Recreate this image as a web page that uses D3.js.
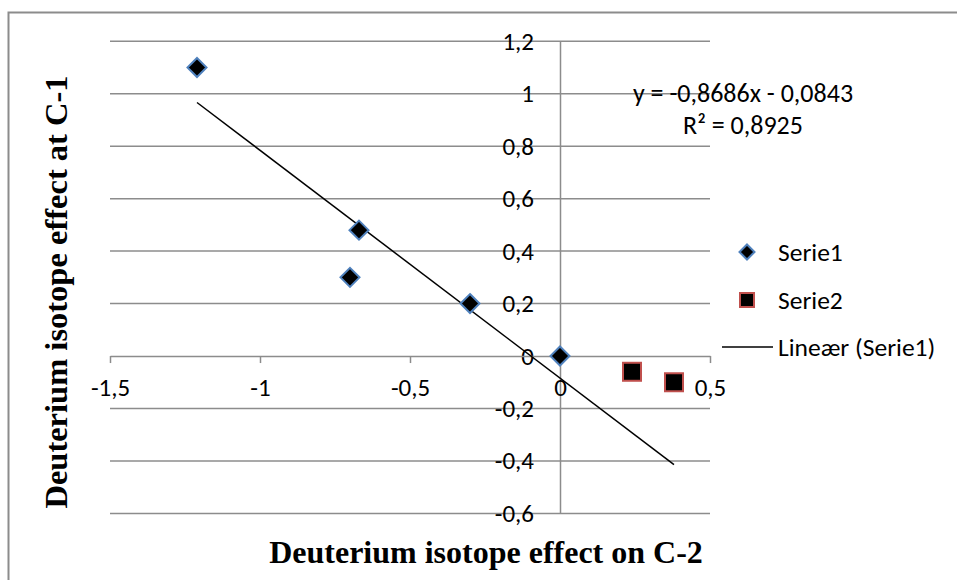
<!DOCTYPE html>
<html><head><meta charset="utf-8">
<script src="https://cdn.jsdelivr.net/npm/d3@7/dist/d3.min.js"></script>
<style>body{margin:0;background:#fff}svg{display:block}</style>
</head><body>
<svg id="c" width="957" height="580"></svg>
<script>
const serie1X = [-1.21, -0.67, -0.70, -0.30, 0.00];
const serie1Y = [1.10, 0.48, 0.30, 0.20, 0.00];
const serie2X = [0.24, 0.38];
const serie2Y = [-0.06, -0.10];
const xTicks = [-1.5, -1, -0.5, 0, 0.5];
const yTicks = [-0.6, -0.4, -0.2, 0, 0.2, 0.4, 0.6, 0.8, 1, 1.2];
const trendSlope = -0.8686, trendIntercept = -0.0843;
const eqText = "y = -0,8686x - 0,0843";
const r2Text = "R² = 0,8925";
const legendLabels = ["Serie1", "Serie2", "Lineær (Serie1)"];
const xTitle = "Deuterium isotope effect on C-2";
const yTitle = "Deuterium isotope effect at C-1";

const svg = d3.select("#c");
const fmt = v => String(v).replace(".", ",");
const x = d3.scaleLinear().domain([-1.5, 0.5]).range([110, 710]);
const y = d3.scaleLinear().domain([-0.6, 1.2]).range([513.4, 41.3]);
const sans = "Carlito, Calibri, Lato, sans-serif";
const serif = "'Liberation Serif', 'Times New Roman', serif";
const grid = "#8c8c8c";

// outer border (only top/left visible)
svg.append("rect").attr("x", 8.5).attr("y", 12.5).attr("width", 1000).attr("height", 1000)
  .attr("fill", "none").attr("stroke", "#8c8c8c").attr("stroke-width", 2);

// gridlines
svg.append("g").selectAll("line").data(yTicks.filter(d => d !== 0)).join("line")
  .attr("x1", x(-1.5)).attr("x2", x(0.5)).attr("y1", d => y(d)).attr("y2", d => y(d))
  .attr("stroke", grid).attr("stroke-width", 1.5);

// y axis (vertical line at x=0)
const yAxis = d3.axisLeft(y).tickValues(yTicks).tickSize(0).tickFormat(fmt);
const gy = svg.append("g").attr("transform", `translate(${x(0)},0)`).call(yAxis);
gy.select(".domain").attr("stroke", grid).attr("stroke-width", 1.5);
gy.selectAll("text").attr("x", -26).attr("font-family", sans).attr("font-size", 25).attr("fill", "#000");

// x axis
const xAxis = d3.axisBottom(x).tickValues(xTicks).tickSize(7).tickSizeOuter(0).tickFormat(fmt);
const gx = svg.append("g").attr("transform", `translate(0,${y(0)})`).call(xAxis);
gx.select(".domain").attr("stroke", grid).attr("stroke-width", 1.5);
gx.selectAll(".tick line").attr("stroke", grid).attr("stroke-width", 1.5);
gx.selectAll("text").attr("y", 22).attr("font-family", sans).attr("font-size", 25).attr("fill", "#000");

// trendline
const allX = serie1X.concat(serie2X);
const tx0 = d3.min(serie1X), tx1 = d3.max(allX);
svg.append("line")
  .attr("x1", x(tx0)).attr("y1", y(trendSlope * tx0 + trendIntercept))
  .attr("x2", x(tx1)).attr("y2", y(trendSlope * tx1 + trendIntercept))
  .attr("stroke", "#000").attr("stroke-width", 1.5);

// series 1 diamonds
const diamond = s => `M0,${-s}L${s},0L0,${s}L${-s},0Z`;
svg.append("g").selectAll("path").data(serie1X.map((v, i) => [v, serie1Y[i]])).join("path")
  .attr("d", diamond(9.5))
  .attr("transform", d => `translate(${x(d[0])},${y(d[1])})`)
  .attr("fill", "#000").attr("stroke", "#4f81bd").attr("stroke-width", 2);

// series 2 squares
svg.append("g").selectAll("rect").data(serie2X.map((v, i) => [v, serie2Y[i]])).join("rect")
  .attr("x", d => x(d[0]) - 9).attr("y", d => y(d[1]) - 9)
  .attr("width", 18).attr("height", 18)
  .attr("fill", "#000").attr("stroke", "#c0504d").attr("stroke-width", 2);

// equation
const eq = svg.append("text").attr("font-family", sans).attr("font-size", 26).attr("text-anchor", "middle");
eq.append("tspan").attr("x", 743).attr("y", 102).text(eqText);
eq.append("tspan").attr("x", 743).attr("y", 134).text(r2Text);

// legend
const lg = svg.append("g");
lg.append("path").attr("d", diamond(7.5)).attr("transform", "translate(747,252)")
  .attr("fill", "#000").attr("stroke", "#4f81bd").attr("stroke-width", 2);
lg.append("rect").attr("x", 740).attr("y", 293).attr("width", 14).attr("height", 14)
  .attr("fill", "#000").attr("stroke", "#c0504d").attr("stroke-width", 2);
lg.append("line").attr("x1", 722).attr("x2", 773).attr("y1", 347).attr("y2", 347)
  .attr("stroke", "#000").attr("stroke-width", 1.5);
lg.selectAll("text").data(legendLabels).join("text")
  .attr("x", 778).attr("y", (d, i) => [252, 300, 347][i]).attr("dy", "0.35em")
  .attr("font-family", sans).attr("font-size", 25.5).text(d => d);

// axis titles
svg.append("text").attr("x", 486).attr("y", 563).attr("text-anchor", "middle")
  .attr("font-family", serif).attr("font-weight", "bold")
  .attr("font-size", 32).text(xTitle);
svg.append("text").attr("transform", "translate(67,292) rotate(-90)").attr("text-anchor", "middle")
  .attr("font-family", serif).attr("font-weight", "bold")
  .attr("font-size", 32.5).text(yTitle);
</script>
</body></html>
